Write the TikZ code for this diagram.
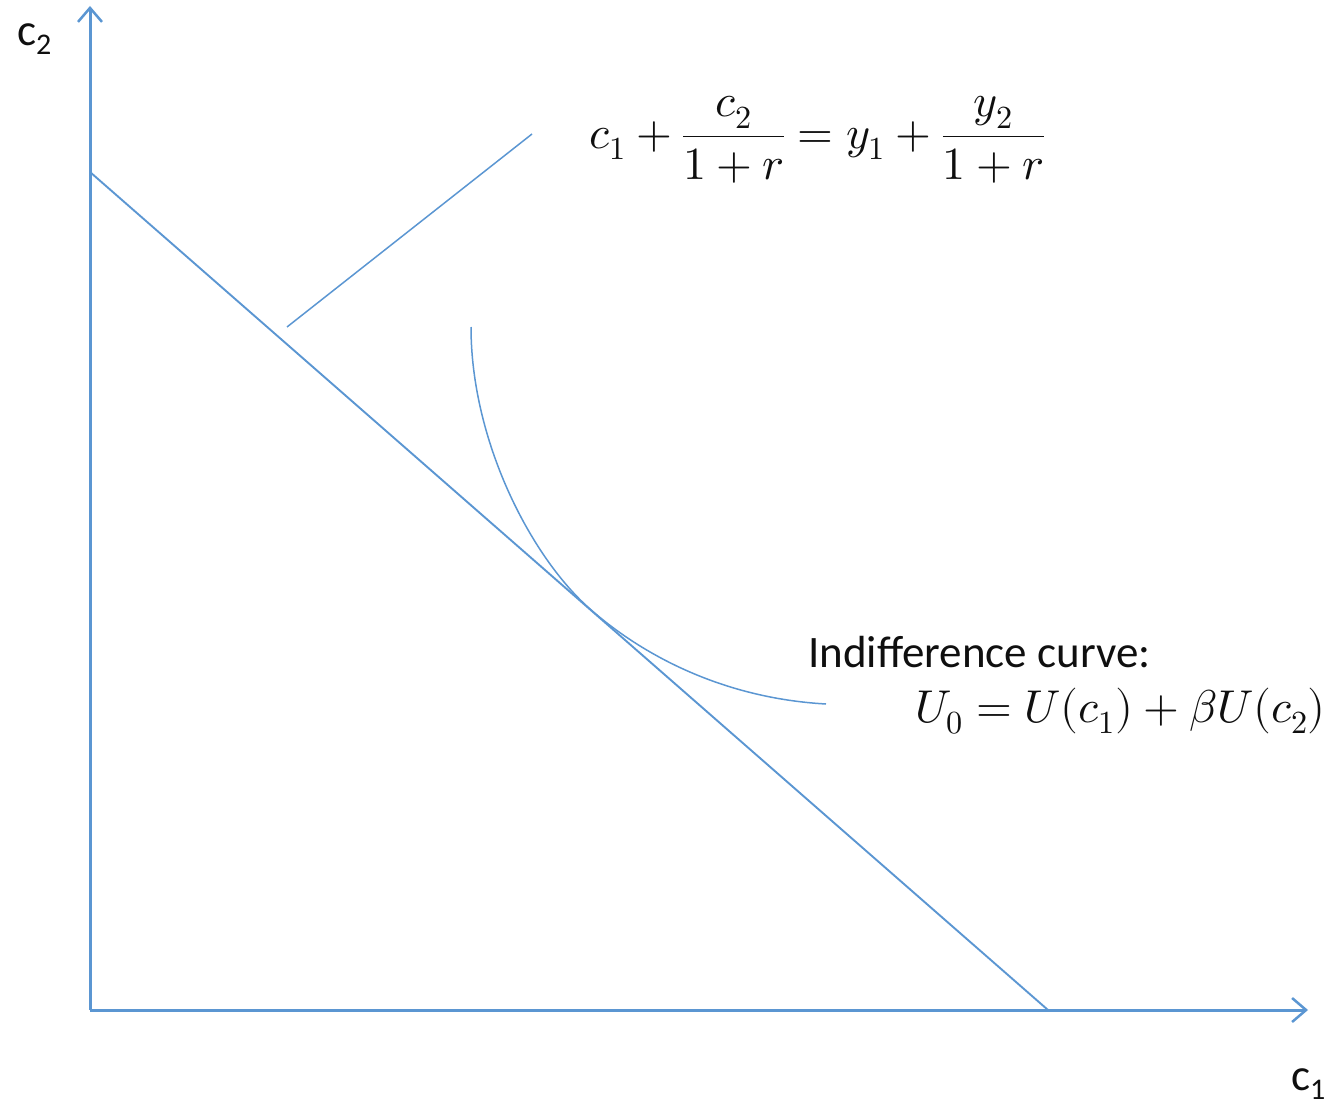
\documentclass[tikz,border=0pt]{standalone}
\usepackage{fontspec}
\usepackage{unicode-math}
\setmathfont{Latin Modern Math}
\newfontfamily\calib{Carlito}
\usetikzlibrary{arrows.meta}
\definecolor{lineblue}{RGB}{91,150,210}
\definecolor{txt}{RGB}{15,15,15}
\tikzset{
  axisline/.style={draw=lineblue, line width=3pt, -{Straight Barb[length=14pt,width=24pt,line width=2.5pt]}},
  plotline/.style={draw=lineblue, line width=1.9pt},
  thinline/.style={draw=lineblue, line width=1.5pt},
  lbl/.style={text=txt, inner sep=0pt},
}
\begin{document}
\begin{tikzpicture}[x=1pt,y=-1pt]
\useasboundingbox (0,0) rectangle (1332,1105);
% coordinates
\coordinate (O) at (90,1010);
\coordinate (ytop) at (90,6);
\coordinate (xend) at (1308,1010);
\coordinate (bA) at (90,172);
\coordinate (bB) at (1048,1010);
\coordinate (lA) at (287,327);
\coordinate (lB) at (532,134);
\coordinate (iA) at (471,327);
\coordinate (iT) at (590,609);
\coordinate (iB) at (826,704);
% axes
\draw[axisline] (O) -- (ytop);
\draw[axisline] (O) -- (xend);
% budget line
\draw[plotline] (bA) -- (bB);
% leader line
\draw[thinline] (lA) -- (lB);
% indifference curve
\draw[thinline] (iA) .. controls (471,440) and (530,556) .. (iT)
  .. controls (640,653) and (720,698) .. (iB);
% labels
\node[lbl, anchor=base west] (c2lab) at (17,46) {\calib\fontsize{45}{50}\selectfont c\raisebox{-9pt}{\fontsize{30}{30}\selectfont 2}};
\node[lbl, anchor=base west] (c1lab) at (1291,1090) {\calib\fontsize{45}{50}\selectfont c\raisebox{-9pt}{\fontsize{30}{30}\selectfont 1}};
\node[lbl] (budget) at (817,140) {\fontsize{46}{54}\selectfont $\displaystyle c_1+\frac{c_2}{1+r}=y_1+\frac{y_2}{1+r}$};
\node[lbl, anchor=base west] (ind) at (808,667) {\calib\fontsize{45}{54}\selectfont Indifference curve:};
\node[lbl, anchor=base east] (util) at (1326,722) {\fontsize{46}{54}\selectfont $U_0=U(c_1)+\beta U(c_2)$};
\end{tikzpicture}
\end{document}
